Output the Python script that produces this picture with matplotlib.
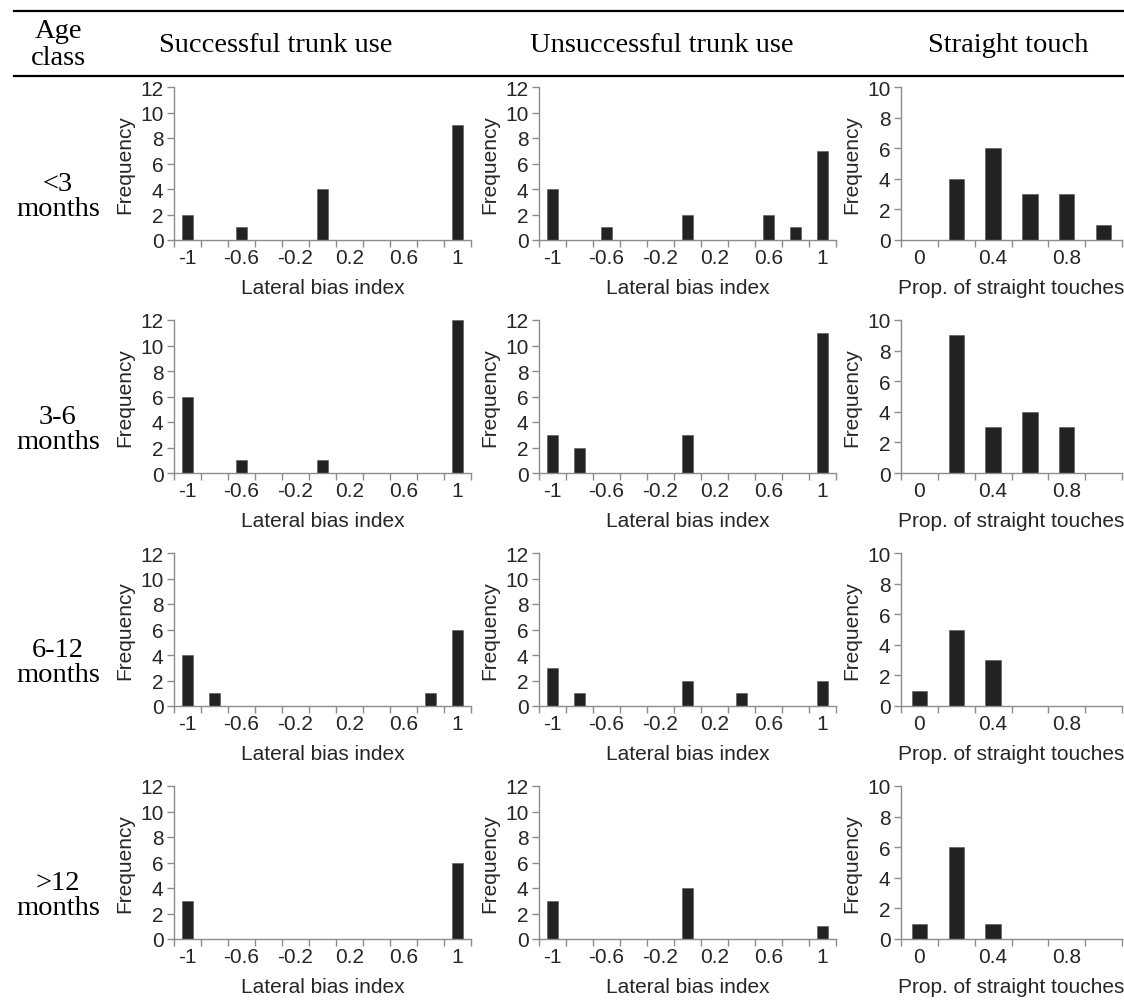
import numpy as np
import matplotlib.pyplot as plt
from matplotlib.lines import Line2D

# categories
lateral_bins = ['-1', '-0.8', '-0.6', '-0.4', '-0.2', '0', '0.2', '0.4', '0.6', '0.8', '1']
prop_bins = ['0', '0.2', '0.4', '0.6', '0.8', '1']
age_classes = ['<3\nmonths', '3-6\nmonths', '6-12\nmonths', '>12\nmonths']
col_titles = ['Successful trunk use', 'Unsuccessful trunk use', 'Straight touch']

# frequencies per age class (rows)
successful = [
    [2, 0, 1, 0, 0, 4, 0, 0, 0, 0, 9],
    [6, 0, 1, 0, 0, 1, 0, 0, 0, 0, 12],
    [4, 1, 0, 0, 0, 0, 0, 0, 0, 1, 6],
    [3, 0, 0, 0, 0, 0, 0, 0, 0, 0, 6],
]
unsuccessful = [
    [4, 0, 1, 0, 0, 2, 0, 0, 2, 1, 7],
    [3, 2, 0, 0, 0, 3, 0, 0, 0, 0, 11],
    [3, 1, 0, 0, 0, 2, 0, 1, 0, 0, 2],
    [3, 0, 0, 0, 0, 4, 0, 0, 0, 0, 1],
]
straight = [
    [0, 4, 6, 3, 3, 1],
    [0, 9, 3, 4, 3, 0],
    [1, 5, 3, 0, 0, 0],
    [1, 6, 1, 0, 0, 0],
]

W, H = 1124, 1004
fig = plt.figure(figsize=(W / 100, H / 100), dpi=100)
plt.rcParams['font.family'] = ['Liberation Sans', 'DejaVu Sans']

BAR = '#222222'
SPINE = '#8c8c8c'
TXT = '#262626'
FS = 15
SERIF = 'Liberation Serif'
SFS = 20.5

# pixel layout of panels
col_x = [174, 539, 901]
col_w = [297, 297, 221]
row_base = [241, 474, 707, 940]
row_h = 153


def draw_panel(ax, counts, labels, ymax, xlabel):
    n = len(labels)
    idx = np.arange(n)
    ax.bar(idx, counts, width=0.42, color=BAR, edgecolor='#555555', linewidth=0.4)
    ax.set_xlim(-0.5, n - 0.5)
    ax.set_ylim(0, ymax)
    ax.set_yticks(np.arange(0, ymax + 1, 2))
    # boundaries as tick marks, labels on every other category
    ax.set_xticks(np.arange(n + 1) - 0.5)
    ax.set_xticklabels([])
    ax.set_xticks(idx[::2], minor=True)
    ax.set_xticklabels(labels[::2], minor=True)
    ax.tick_params(axis='x', which='major', length=5, width=1, color=SPINE)
    ax.tick_params(axis='x', which='minor', length=0, pad=6, labelsize=FS, labelcolor=TXT)
    ax.tick_params(axis='y', length=5, width=1, color=SPINE, pad=2.5, labelsize=FS, labelcolor=TXT)
    for s in ['top', 'right']:
        ax.spines[s].set_visible(False)
    for s in ['left', 'bottom']:
        ax.spines[s].set_color(SPINE)
        ax.spines[s].set_linewidth(1)
    ax.set_xlabel(xlabel, fontsize=FS, color=TXT)
    ax.set_ylabel('Frequency', fontsize=FS, color=TXT)
    bw = ax.get_position().width * W
    bh = ax.get_position().height * H
    ax.xaxis.set_label_coords(0.5, -38 / bh)
    ax.yaxis.set_label_coords(-40 / bw, 0.5)


data_cols = [successful, unsuccessful, straight]
for r in range(4):
    for c in range(3):
        ax = fig.add_axes([col_x[c] / W, 1 - row_base[r] / H, col_w[c] / W, row_h / H])
        if c < 2:
            draw_panel(ax, data_cols[c][r], lateral_bins, 12, 'Lateral bias index')
        else:
            draw_panel(ax, data_cols[c][r], prop_bins, 10, 'Prop. of straight touches')
    fig.text(58 / W, 1 - (row_base[r] - 44) / H, age_classes[r], ha='center', va='center',
             fontsize=SFS, family=SERIF, color='black', linespacing=1.05)

# table header
fig.text(58 / W, 1 - 45 / H, 'Age\nclass', ha='center', va='center', fontsize=SFS,
         family=SERIF, color='black', linespacing=1.15)
for x, t in zip([276, 662, 1008], col_titles):
    fig.text(x / W, 1 - 46 / H, t, ha='center', va='center', fontsize=SFS, family=SERIF, color='black')
for y in [12, 77]:
    fig.add_artist(Line2D([14 / W, 1], [1 - y / H, 1 - y / H], color='black', linewidth=1.6))

fig.savefig('out.png', dpi=100)
